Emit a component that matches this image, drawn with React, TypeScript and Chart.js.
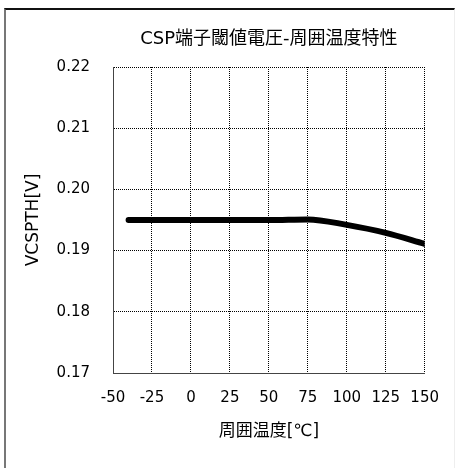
import React, { useEffect, useRef } from "react";
import { Chart, registerables } from "chart.js";

Chart.register(...registerables);

const temperatures = [-40, -25, 0, 25, 50, 75, 100, 125, 150];
const voltages = [0.195, 0.195, 0.195, 0.195, 0.195, 0.1951, 0.1942, 0.1929, 0.1911];
const titleText = "CSP端子閾値電圧-周囲温度特性";
const xTitle = "周囲温度[℃]";
const yTitle = "VCSPTH[V]";
const xMin = -50;
const xMax = 150;
const xStep = 25;
const yMin = 0.17;
const yMax = 0.22;
const yStep = 0.01;

const FONT = "'DejaVu Sans', 'Noto Sans CJK JP', sans-serif";

export default function App() {
  const ref = useRef<HTMLCanvasElement | null>(null);

  useEffect(() => {
    if (!ref.current) return;
    const chart = new Chart(ref.current, {
      type: "line",
      data: {
        datasets: [
          {
            data: temperatures.map((t, i) => ({ x: t, y: voltages[i] })),
            borderColor: "#000",
            borderWidth: 6,
            borderCapStyle: "round",
            borderJoinStyle: "round",
            pointRadius: 0,
            cubicInterpolationMode: "monotone",
            fill: false,
          },
        ],
      },
      options: {
        animation: false,
        responsive: false,
        devicePixelRatio: 1,
        layout: { padding: { left: 0, right: 28, top: 0, bottom: 0 } },
        plugins: {
          legend: { display: false },
          tooltip: { enabled: false },
          title: {
            display: true,
            fullSize: false,
            text: titleText,
            color: "#000",
            font: { family: FONT, size: 18, weight: "normal", lineHeight: 1.2 },
            padding: { top: 29, bottom: 16.4 },
          },
        },
        scales: {
          x: {
            type: "linear",
            min: xMin,
            max: xMax,
            grid: { color: "#000", lineWidth: 1, drawTicks: false },
            border: { display: true, color: "#444", width: 1, dash: [1, 1] },
            ticks: {
              stepSize: xStep,
              padding: 16,
              color: "#000",
              font: { family: FONT, size: 15, lineHeight: 1.2 },
            },
            title: {
              display: true,
              text: xTitle,
              color: "#000",
              font: { family: FONT, size: 17, lineHeight: 1.2 },
              padding: { top: 15, bottom: 26 },
            },
            afterFit: (s: any) => {
              s.height = 95;
            },
          },
          y: {
            type: "linear",
            min: yMin,
            max: yMax,
            grid: { color: "#000", lineWidth: 1, drawTicks: false },
            border: { display: true, color: "#444", width: 1, dash: [1, 1] },
            ticks: {
              stepSize: yStep,
              padding: 23,
              color: "#000",
              font: { family: FONT, size: 15, lineHeight: 1.2 },
              callback: (v: any) => Number(v).toFixed(2),
            },
            title: {
              display: true,
              text: yTitle,
              color: "#000",
              font: { family: FONT, size: 17, lineHeight: 1.2 },
              padding: { top: 23, bottom: 0 },
            },
            afterFit: (s: any) => {
              s.width = 113;
            },
          },
        },
      },
    });
    return () => chart.destroy();
  }, []);

  return (
    <div style={{ position: "fixed", left: 0, top: 0, width: 455, height: 468, background: "#fff" }}>
      <div
        style={{
          position: "absolute",
          left: 4,
          top: 8,
          width: 448,
          height: 470,
          borderLeft: "2px solid #777",
          borderTop: "2px solid #111",
          borderRight: "1px solid #eeeeee",
        }}
      />
      <canvas
        ref={ref}
        width={455}
        height={468}
        style={{ position: "absolute", left: 0, top: 0, width: 455, height: 468 }}
      />
    </div>
  );
}
